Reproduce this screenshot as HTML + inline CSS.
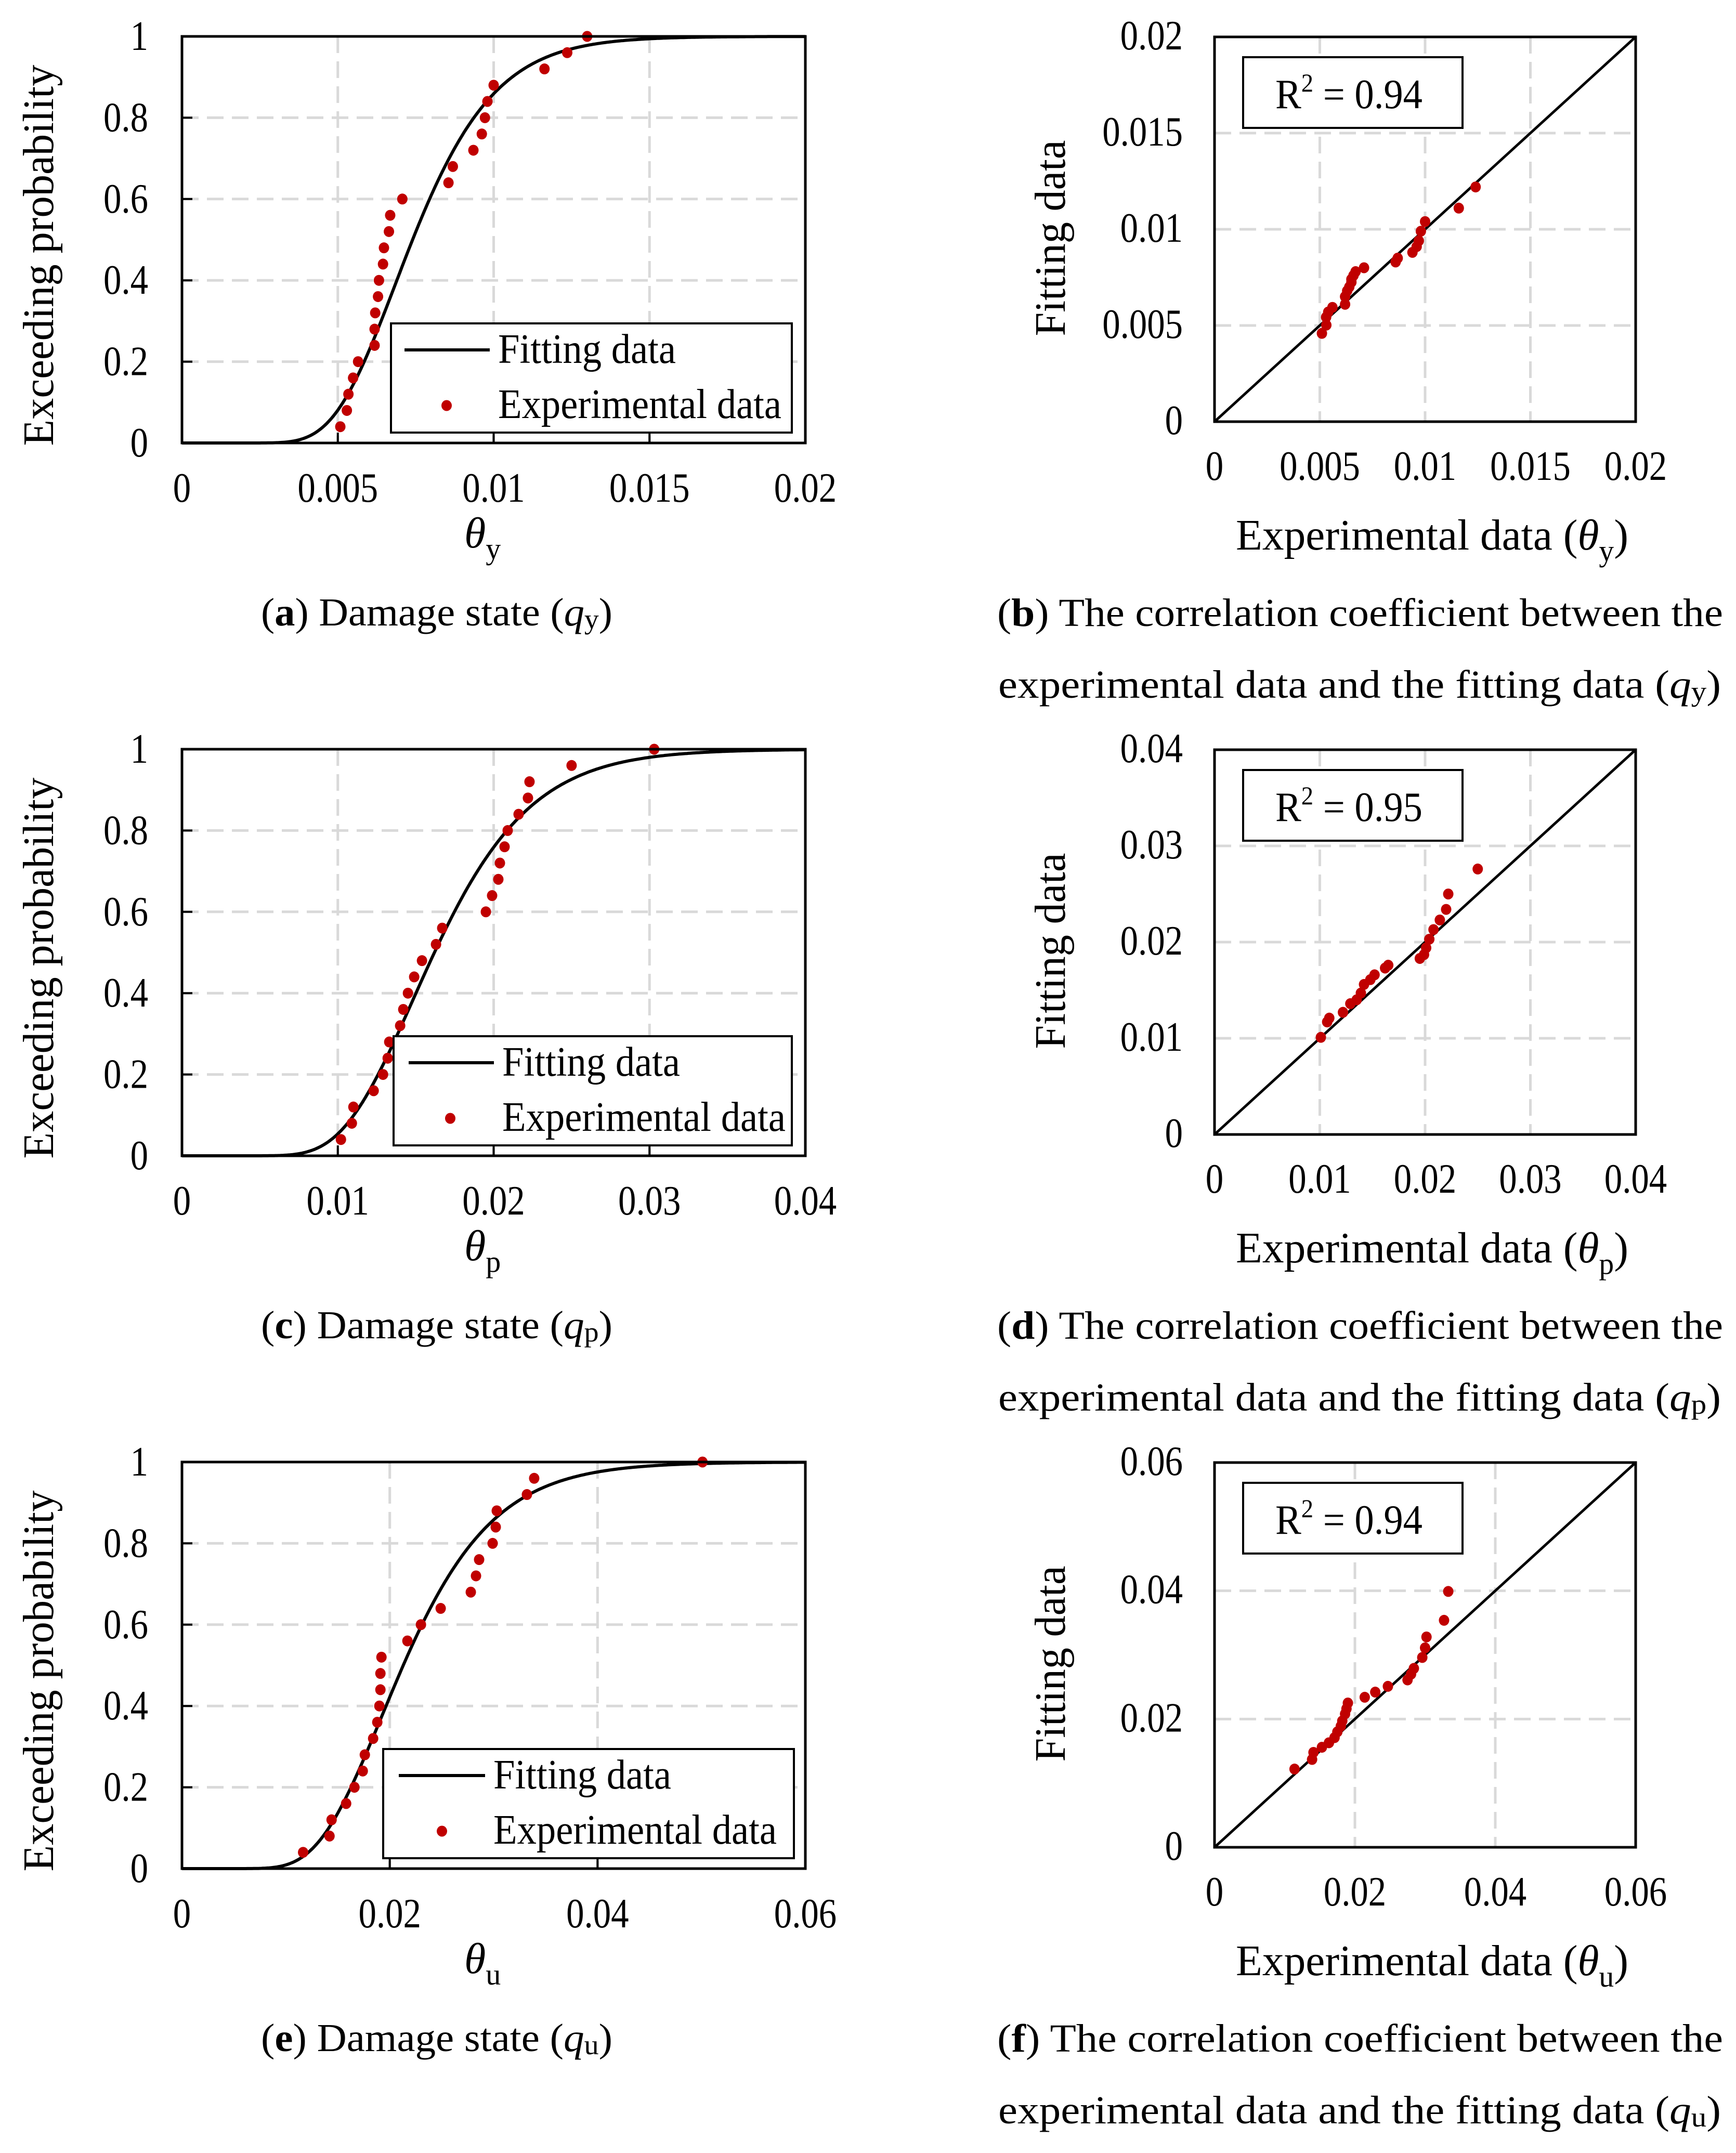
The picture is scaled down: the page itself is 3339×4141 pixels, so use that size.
<!DOCTYPE html>
<html><head><meta charset="utf-8"><title>Fragility curves</title>
<style>html,body{margin:0;padding:0;background:#fff}svg{display:block}
svg text{font-family:"Liberation Serif","Times New Roman",serif}</style></head>
<body>
<svg id="fig" xmlns="http://www.w3.org/2000/svg" width="3339" height="4141" viewBox="0 0 3339 4141" font-family="Liberation Serif, serif"></svg>
<script>
// ---- data ----
const expA = [0.00508,0.00529,0.00534,0.00549,0.00565,0.00618,0.00618,0.0062,0.00629,0.00632,0.00645,0.00648,0.00664,0.00668,0.00707,0.00855,0.00869,0.00935,0.00962,0.00972,0.0098,0.0100,0.01163,0.01236,0.0130];
const probA = [0.04,0.08,0.12,0.16,0.20,0.24,0.28,0.32,0.36,0.40,0.44,0.48,0.52,0.56,0.60,0.64,0.68,0.72,0.76,0.80,0.84,0.88,0.92,0.96,1.00];
const expC = [0.0102,0.0109,0.011,0.0123,0.0129,0.0132,0.0133,0.014,0.0142,0.0145,0.0149,0.0154,0.0163,0.0167,0.0195,0.0199,0.0203,0.0204,0.0207,0.0209,0.0216,0.0222,0.0223,0.025,0.0303];
const probC = [0.04,0.08,0.12,0.16,0.20,0.24,0.28,0.32,0.36,0.40,0.44,0.48,0.52,0.56,0.60,0.64,0.68,0.72,0.76,0.80,0.84,0.88,0.92,0.96,1.00];
const expE = [0.01166,0.0142,0.0144,0.0158,0.0166,0.0174,0.0176,0.0184,0.0188,0.019,0.0191,0.0191,0.0192,0.0217,0.023,0.0249,0.0278,0.0283,0.0286,0.0299,0.0302,0.0303,0.0332,0.0339,0.0501];
const probE = [0.04,0.08,0.12,0.16,0.20,0.24,0.28,0.32,0.36,0.40,0.44,0.48,0.52,0.56,0.60,0.64,0.68,0.72,0.76,0.80,0.84,0.88,0.92,0.96,1.00];
const fitMedian = [0.0074, 0.0162, 0.0213];
const fitBeta = [0.28, 0.30, 0.32];

const corrBx = [0.0051,0.00531,0.0053,0.0054,0.0056,0.0062,0.0062,0.0063,0.0064,0.0065,0.0065,0.0066,0.0067,0.0071,0.0086,0.0087,0.0094,0.0096,0.0097,0.0098,0.0100,0.0116,0.0124];
const corrBy = [0.00459,0.00502,0.00543,0.0057,0.00594,0.0061,0.0065,0.0068,0.0070,0.00725,0.0074,0.0076,0.0078,0.0080,0.0083,0.0085,0.0088,0.0091,0.0094,0.0099,0.0104,0.0111,0.0122];
const corrDx = [0.0101,0.0107,0.0109,0.0122,0.0129,0.0135,0.0139,0.0142,0.0148,0.0152,0.0162,0.0165,0.0195,0.0199,0.0201,0.0204,0.0208,0.0214,0.022,0.0222,0.025];
const corrDy = [0.0101,0.0117,0.0121,0.0127,0.0136,0.014,0.0147,0.0156,0.0161,0.0166,0.0173,0.0176,0.0183,0.0187,0.0194,0.0203,0.0213,0.0223,0.0234,0.025,0.0276];
const corrFx = [0.0114,0.0139,0.0141,0.0153,0.0163,0.0171,0.0175,0.018,0.0182,0.0186,0.0188,0.019,0.0214,0.0229,0.0247,0.0275,0.028,0.0284,0.0296,0.03,0.0302,0.0327,0.0333];
const corrFy = [0.0122,0.0137,0.0148,0.0156,0.0163,0.0171,0.018,0.0189,0.0197,0.0208,0.0216,0.0225,0.0234,0.0242,0.0251,0.0261,0.027,0.0279,0.0296,0.0311,0.0328,0.0354,0.0399];

const leftXTicks = [[0,0.005,0.01,0.015,0.02],[0,0.01,0.02,0.03,0.04],[0,0.02,0.04,0.06]];
const leftXLabels = [["0","0.005","0.01","0.015","0.02"],["0","0.01","0.02","0.03","0.04"],["0","0.02","0.04","0.06"]];
const leftYTicks = [0,0.2,0.4,0.6,0.8,1];
const leftYLabels = ["0","0.2","0.4","0.6","0.8","1"];
const rightTicks = [[0,0.005,0.01,0.015,0.02],[0,0.01,0.02,0.03,0.04],[0,0.02,0.04,0.06]];
const rightLabels = [["0","0.005","0.01","0.015","0.02"],["0","0.01","0.02","0.03","0.04"],["0","0.02","0.04","0.06"]];
const r2Values = ["0.94","0.95","0.94"];
const subs = ["y","p","u"];
const letters = [["a","b"],["c","d"],["e","f"]];

const NS = "http://www.w3.org/2000/svg";
const svg = document.getElementById('fig');
function mk(tag, attrs, parent){ const e=document.createElementNS(NS,tag); for(const k in attrs) e.setAttribute(k,attrs[k]); (parent||svg).appendChild(e); return e; }
function erf(x){const s=x<0?-1:1;x=Math.abs(x);const t=1/(1+0.3275911*x);const y=1-(((((1.061405429*t-1.453152027)*t)+1.421413741)*t-0.284496736)*t+0.254829592)*t*Math.exp(-x*x);return s*y;}
function lnCdf(x,m,b){ if(x<=0) return 0; return 0.5*(1+erf(Math.log(x/m)/(b*Math.SQRT2))); }
function tick(g,x,y,str,anchor){ const t=mk('text',{x:0,y:0,'font-size':80,'text-anchor':anchor,transform:`translate(${x},${y}) scale(0.86,1)`},g); t.textContent=str; return t; }

const GRID = '#d9d9d9';
const RED = '#c00000';
const LROW = 1371;

for(let k=0;k<3;k++){
  const dy = LROW*k;
  // ---------- left panel ----------
  const L = {x0:350,y0:70+dy,w:1199,h:782,xmax:leftXTicks[k][leftXTicks[k].length-1],ymax:1};
  const sx = v=>L.x0+v/L.xmax*L.w, sy = v=>L.y0+L.h-v/L.ymax*L.h;
  const g = mk('g',{});
  
  
  leftYTicks.forEach((v,i)=>{
    if(v>0 && v<1){ const ln=mk('line',{x1:L.x0,x2:L.x0+L.w,y1:sy(v),y2:sy(v),stroke:GRID,'stroke-width':5,'stroke-dasharray':'32 16'},g);
        }
    const t=tick(g,285,sy(v)+26,leftYLabels[i],'end');
     
    mk('line',{x1:L.x0,x2:L.x0+20,y1:sy(v),y2:sy(v),stroke:'#000','stroke-width':4},g);
  });
  leftXTicks[k].forEach((v,i)=>{
    if(v>0 && v<L.xmax){ const ln=mk('line',{x1:sx(v),x2:sx(v),y1:L.y0,y2:L.y0+L.h,stroke:GRID,'stroke-width':5,'stroke-dasharray':'32 16'},g);
        }
    mk('line',{x1:sx(v),x2:sx(v),y1:L.y0+L.h,y2:L.y0+L.h-20,stroke:'#000','stroke-width':4},g);
    const t=tick(g,sx(v),L.y0+L.h+113,leftXLabels[k][i],'middle');
     
  });
  let d='';
  for(let j=0;j<=400;j++){ const xv=L.xmax*j/400; d+=(j?'L':'M')+sx(xv).toFixed(1)+' '+sy(lnCdf(xv,fitMedian[k],fitBeta[k])).toFixed(1); }
  const cur=mk('path',{d:d,fill:'none',stroke:'#000','stroke-width':6},g);
   
  const ex=[expA,expC,expE][k], pr=[probA,probC,probE][k];
  ex.forEach((v,i)=>{ const c=mk('ellipse',{cx:sx(v),cy:sy(pr[i]),rx:10,ry:10.5,fill:RED},g);
      });
  const fr=mk('rect',{x:L.x0,y:L.y0,width:L.w,height:L.h,fill:'none',stroke:'#000','stroke-width':5},g);
   
  const lb=[752,757,737][k], lt=[958,966,949][k], l1=[778,786,767][k], l2=[942,950,933][k], ldx=[859,866,850][k];
  const lg=mk('g',{},g);
   
  mk('rect',{x:lb,y:L.y0+552,width:1523-lb+(k==2?4:0),height:210,fill:'#fff',stroke:'#000','stroke-width':4},lg);
  mk('line',{x1:l1,x2:l2,y1:L.y0+603,y2:L.y0+603,stroke:'#000','stroke-width':6},lg);
  const t1=mk('text',{x:lt,y:L.y0+628,'font-size':80,textLength:342,lengthAdjust:'spacingAndGlyphs'},lg); t1.textContent='Fitting data';
   
  mk('ellipse',{cx:ldx,cy:L.y0+710,rx:10,ry:10.5,fill:RED},lg);
  const t2=mk('text',{x:lt,y:L.y0+734,'font-size':80,textLength:545,lengthAdjust:'spacingAndGlyphs'},lg); t2.textContent='Experimental data';
   
  const yt=mk('text',{x:0,y:0,'font-size':84,'text-anchor':'middle',textLength:733,lengthAdjust:'spacingAndGlyphs',transform:`translate(102,${L.y0+421}) rotate(-90)`},g);
  yt.textContent='Exceeding probability';
   
  const xt=mk('text',{x:893,y:L.y0+L.h+201,'font-size':84},g);
  xt.innerHTML='<tspan font-style="italic">θ</tspan><tspan font-size="58" dy="22">'+subs[k]+'</tspan>';
   
  const cp=mk('text',{x:502,y:L.y0+L.h+351,'font-size':76,textLength:676,lengthAdjust:'spacingAndGlyphs'},g);
  cp.innerHTML='(<tspan font-weight="bold">'+letters[k][0]+'</tspan>) Damage state (<tspan font-style="italic">q</tspan><tspan font-size="54" dy="6">'+subs[k]+'</tspan><tspan dy="-6">)</tspan>';
   

  // ---------- right panel ----------
  const R = {x0:2336,y0:71+dy,w:810,h:740,max:rightTicks[k][rightTicks[k].length-1]};
  const rx = v=>R.x0+v/R.max*R.w, ry = v=>R.y0+R.h-v/R.max*R.h;
  const h = mk('g',{});
  
  
  rightTicks[k].forEach((v,i)=>{
    if(v>0 && v<R.max){
      const a=mk('line',{x1:rx(v),x2:rx(v),y1:R.y0,y2:R.y0+R.h,stroke:GRID,'stroke-width':5,'stroke-dasharray':'32 16'},h);
       
      const b=mk('line',{x1:R.x0,x2:R.x0+R.w,y1:ry(v),y2:ry(v),stroke:GRID,'stroke-width':5,'stroke-dasharray':'32 16'},h);
       
    }
    const tx=tick(h,rx(v),R.y0+R.h+112,rightLabels[k][i],'middle');
     
    const ty=tick(h,2275,ry(v)+24,rightLabels[k][i],'end');
     
  });
  const diag=mk('line',{x1:rx(0),y1:ry(0),x2:rx(R.max),y2:ry(R.max),stroke:'#000','stroke-width':5},h);
   
  const cx=[corrBx,corrDx,corrFx][k], cy=[corrBy,corrDy,corrFy][k];
  cx.forEach((v,i)=>{ const c=mk('ellipse',{cx:rx(v),cy:ry(cy[i]),rx:10,ry:10.5,fill:RED},h);
      });
  const rf=mk('rect',{x:R.x0,y:R.y0,width:R.w,height:R.h,fill:'none',stroke:'#000','stroke-width':5},h);
   
  const rb=mk('rect',{x:2391,y:R.y0+39,width:422,height:136,fill:'#fff',stroke:'#000','stroke-width':4},h);
   
  const rt=mk('text',{x:2453,y:R.y0+137,'font-size':80,textLength:283,lengthAdjust:'spacingAndGlyphs'},h);
  rt.innerHTML='R<tspan font-size="50" dy="-32">2</tspan><tspan dy="32"> = '+r2Values[k]+'</tspan>';
   
  const fy=mk('text',{x:0,y:0,'font-size':84,'text-anchor':'middle',textLength:377,lengthAdjust:'spacingAndGlyphs',transform:`translate(2048,${R.y0+387}) rotate(-90)`},h);
  fy.textContent='Fitting data';
   
  const fx=mk('text',{x:2377,y:R.y0+R.h+246,'font-size':84,textLength:755,lengthAdjust:'spacingAndGlyphs'},h);
  fx.innerHTML='Experimental data (<tspan font-style="italic">θ</tspan><tspan font-size="58" dy="22">'+subs[k]+'</tspan><tspan dy="-22">)</tspan>';
   
  const c1=mk('text',{x:1918,y:R.y0+R.h+393,'font-size':76,textLength:1396,lengthAdjust:'spacingAndGlyphs'},h);
  c1.innerHTML='(<tspan font-weight="bold">'+letters[k][1]+'</tspan>) The correlation coefficient between the';
   
  const c2=mk('text',{x:1920,y:R.y0+R.h+531,'font-size':76,textLength:1390,lengthAdjust:'spacingAndGlyphs'},h);
  c2.innerHTML='experimental data and the fitting data (<tspan font-style="italic">q</tspan><tspan font-size="54" dy="6">'+subs[k]+'</tspan><tspan dy="-6">)</tspan>';
   
}
</script>
</body></html>
